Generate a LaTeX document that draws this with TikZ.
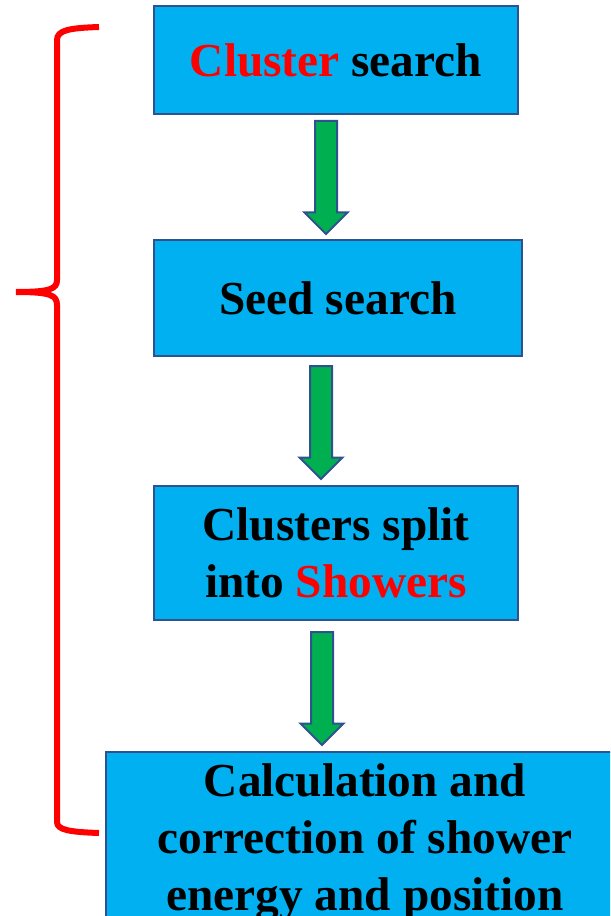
\documentclass[tikz,border=0pt]{standalone}
\usepackage{fontspec}
\setmainfont{Liberation Serif}
\usetikzlibrary{shapes.arrows,calc}
\definecolor{boxfill}{HTML}{00B0F0}
\definecolor{boxline}{HTML}{2F528F}
\definecolor{arrowfill}{HTML}{00B050}
\begin{document}
\begin{tikzpicture}[x=0.75pt,y=-0.75pt,
  stage/.style={draw=boxline,line width=1.5pt,fill=boxfill,align=center,inner sep=0pt,
    font=\rmfamily\bfseries\fontsize{35.5}{42.75}\selectfont},
  downarrow/.style={single arrow,draw=boxline,line width=1.5pt,fill=arrowfill,rotate=-90,
    inner xsep=0pt,inner ysep=7.5pt,single arrow head extend=7.875pt,minimum height=84.75pt},
  brace/.style={draw=red,line width=4.5pt}]
\useasboundingbox (0,0) rectangle (610,916);
\clip (0,0) rectangle (610,916);
% the four stages
\node[stage,minimum width=273pt,minimum height=81pt] (cluster) at (336,60) {\textcolor{red}{Cluster} search};
\node[stage,minimum width=276pt,minimum height=87pt] (seed) at (338,298) {Seed search};
\node[stage,minimum width=273pt,minimum height=100.5pt] (split) at (336,553) {Clusters split\\into \textcolor{red}{Showers}};
\node[stage,anchor=north,minimum width=388.5pt,inner ysep=9pt] (calc) at (365,751) {Calculation and\\correction of shower\\energy and position};
% arrows between them
\node[downarrow] (a1) at ($(cluster.south)!.5!(seed.north)+(-11,-5)$) {};
\node[downarrow] (a2) at ($(seed.south)!.5!(split.north)+(-16,-4)$) {};
\node[downarrow] (a3) at ($(split.south)!.5!(calc.north)+(-28.5,-3)$) {};
% red brace
\draw[brace] (99,27) .. controls (70,28) and (57,30) .. (57,40) -- (57,280) .. controls (57,289) and (50,292) .. (16,292);
\draw[brace] (16,292) .. controls (50,292) and (57,295) .. (57,305) -- (57,822) .. controls (57,830) and (70,832) .. (99,833);
\end{tikzpicture}
\end{document}
